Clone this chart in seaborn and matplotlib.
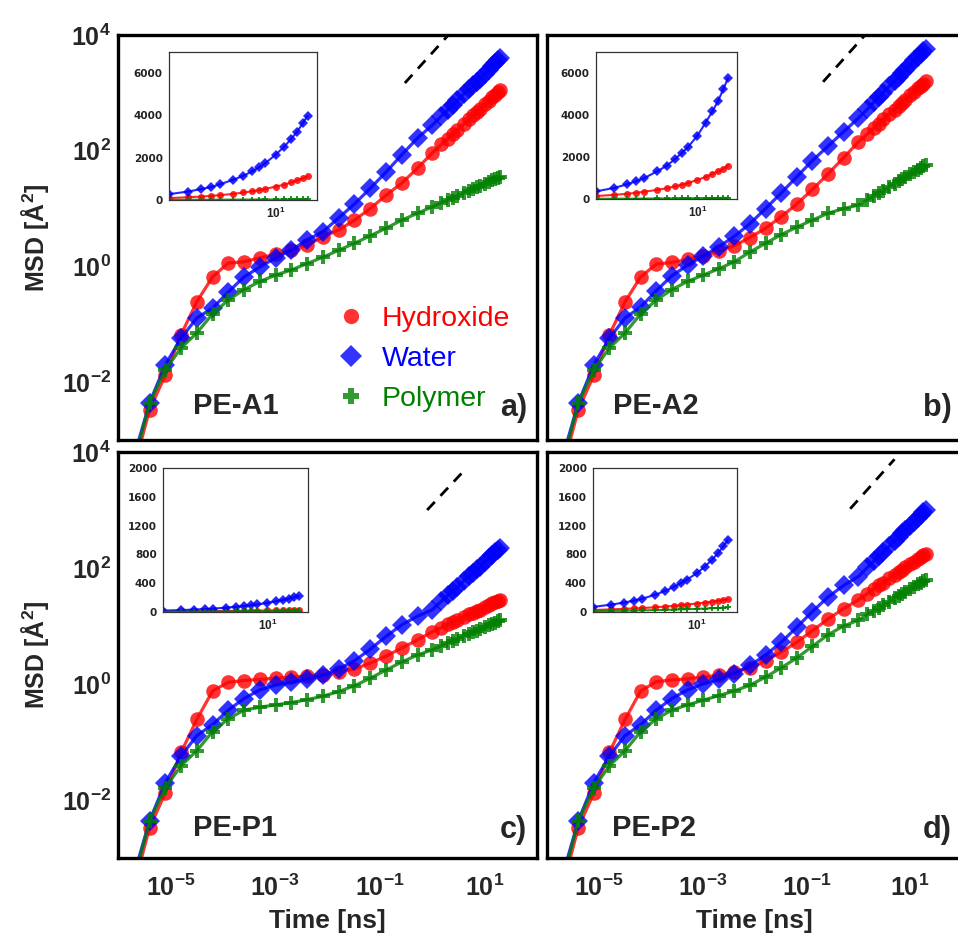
import numpy as np
import pandas as pd
import matplotlib
matplotlib.use("Agg")
import matplotlib.pyplot as plt
from matplotlib.lines import Line2D
from matplotlib.ticker import LogLocator, NullFormatter, MultipleLocator, FuncFormatter, FixedLocator
import seaborn as sns

sns.set_style("white")
plt.rcParams["font.family"] = ["Liberation Sans", "DejaVu Sans"]
plt.rcParams["font.weight"] = "bold"
plt.rcParams["mathtext.fontset"] = "custom"
for key in ["rm", "it", "bf", "sf"]:
    plt.rcParams["mathtext." + key] = "Liberation Sans:bold"
plt.rcParams["mathtext.default"] = "regular"

# ---- data (log10 of MSD in A^2) ----
species = ["Hydroxide", "Water", "Polymer"]
colors = ["red", "blue", "green"]
markers = {"Hydroxide": "o", "Water": "D", "Polymer": "P"}

# time samples [ns]: log-spaced part then linear part
t_short = [2e-6, 4e-6, 8e-6, 1.6e-5, 3.2e-5, 6.4e-5, 1.28e-4, 2.56e-4, 5.12e-4,
           1.024e-3, 2.048e-3, 4.096e-3, 8.192e-3, 0.016384, 0.032768, 0.065536,
           0.131, 0.262, 0.524]
t_long = [1, 1.5, 2, 2.5, 3, 4, 5, 6, 7, 8, 10, 12, 14, 16, 18, 20]

a_hydroxide = [-3.5, -2.48, -1.88, -1.18, -0.61, -0.18, 0.06, 0.08, 0.15, 0.21, 0.28, 0.37, 0.51, 0.63, 0.80, 1.00, 1.23, 1.44, 1.70,
               1.96, 2.11, 2.21, 2.29, 2.36, 2.46, 2.55, 2.61, 2.67, 2.72, 2.80, 2.86, 2.92, 2.97, 3.01, 3.05]
a_water = [-3.3, -2.36, -1.70, -1.24, -0.89, -0.72, -0.44, -0.18, -0.01, 0.15, 0.28, 0.46, 0.60, 0.84, 1.08, 1.35, 1.63, 1.93, 2.22,
           2.44, 2.60, 2.71, 2.79, 2.87, 2.98, 3.06, 3.13, 3.19, 3.24, 3.33, 3.40, 3.46, 3.51, 3.56, 3.60]
a_polymer = [-3.4, -2.36, -1.79, -1.41, -1.15, -0.82, -0.58, -0.40, -0.26, -0.15, -0.06, 0.05, 0.16, 0.28, 0.40, 0.53, 0.66, 0.80, 0.92,
             1.03, 1.10, 1.15, 1.19, 1.22, 1.27, 1.31, 1.34, 1.37, 1.39, 1.43, 1.46, 1.49, 1.51, 1.53, 1.55]

b_hydroxide = [-3.5, -2.48, -1.88, -1.18, -0.61, -0.18, 0.04, 0.07, 0.12, 0.18, 0.26, 0.36, 0.50, 0.66, 0.86, 1.08, 1.33, 1.60, 1.88,
               2.15, 2.29, 2.39, 2.47, 2.54, 2.64, 2.71, 2.78, 2.83, 2.88, 2.96, 3.02, 3.08, 3.12, 3.16, 3.20]
b_water = [-3.3, -2.36, -1.70, -1.24, -0.89, -0.70, -0.42, -0.16, 0.02, 0.18, 0.34, 0.52, 0.74, 1.00, 1.27, 1.55, 1.83, 2.08, 2.33,
           2.56, 2.72, 2.84, 2.93, 3.00, 3.12, 3.20, 3.28, 3.34, 3.39, 3.48, 3.56, 3.62, 3.67, 3.72, 3.76]
b_polymer = [-3.4, -2.36, -1.79, -1.41, -1.15, -0.82, -0.58, -0.40, -0.26, -0.15, -0.04, 0.08, 0.25, 0.40, 0.55, 0.68, 0.80, 0.92, 1.00,
             1.06, 1.15, 1.22, 1.27, 1.31, 1.38, 1.43, 1.47, 1.51, 1.54, 1.59, 1.63, 1.67, 1.70, 1.73, 1.75]

c_hydroxide = [-3.5, -2.48, -1.88, -1.18, -0.61, -0.12, 0.03, 0.06, 0.08, 0.10, 0.12, 0.14, 0.16, 0.20, 0.26, 0.36, 0.48, 0.62, 0.76,
               0.90, 0.97, 1.03, 1.07, 1.10, 1.16, 1.20, 1.23, 1.26, 1.28, 1.32, 1.36, 1.39, 1.41, 1.43, 1.45]
c_water = [-3.3, -2.36, -1.70, -1.24, -0.89, -0.70, -0.45, -0.25, -0.10, -0.02, 0.03, 0.08, 0.15, 0.26, 0.40, 0.60, 0.82, 1.02, 1.17,
           1.28, 1.43, 1.53, 1.61, 1.67, 1.78, 1.86, 1.92, 1.98, 2.02, 2.10, 2.17, 2.22, 2.27, 2.31, 2.35]
c_polymer = [-3.4, -2.36, -1.79, -1.41, -1.15, -0.82, -0.60, -0.45, -0.40, -0.36, -0.32, -0.27, -0.21, -0.13, -0.03, 0.10, 0.24, 0.38, 0.50,
             0.59, 0.66, 0.71, 0.75, 0.78, 0.83, 0.86, 0.90, 0.92, 0.94, 0.98, 1.01, 1.04, 1.06, 1.08, 1.10]

d_hydroxide = [-3.5, -2.48, -1.88, -1.18, -0.61, -0.12, 0.04, 0.07, 0.09, 0.12, 0.15, 0.20, 0.28, 0.40, 0.55, 0.72, 0.92, 1.12, 1.30,
               1.45, 1.56, 1.64, 1.70, 1.74, 1.82, 1.88, 1.93, 1.97, 2.01, 2.07, 2.11, 2.16, 2.19, 2.22, 2.25]
d_water = [-3.3, -2.36, -1.70, -1.24, -0.89, -0.70, -0.45, -0.25, -0.10, 0.00, 0.08, 0.18, 0.32, 0.50, 0.72, 0.98, 1.25, 1.50, 1.70,
           1.85, 2.01, 2.12, 2.20, 2.27, 2.38, 2.47, 2.54, 2.60, 2.65, 2.73, 2.80, 2.86, 2.91, 2.96, 3.00]
d_polymer = [-3.4, -2.36, -1.79, -1.41, -1.15, -0.82, -0.60, -0.45, -0.36, -0.28, -0.20, -0.12, -0.02, 0.12, 0.28, 0.45, 0.65, 0.85, 1.00,
             1.10, 1.20, 1.26, 1.31, 1.36, 1.42, 1.48, 1.52, 1.56, 1.59, 1.64, 1.68, 1.72, 1.75, 1.78, 1.80]

# slope-one guide lines (dashed)
a_guide_t, a_guide_msd = [0.30, 2.5], [1480, 12300]
b_guide_t, b_guide_msd = [0.21, 2.1], [1550, 15500]
c_guide_t, c_guide_msd = [0.8, 3.9], [1000, 4600]
d_guide_t, d_guide_msd = [0.7, 5.0], [1050, 7500]

panels = [
    ("PE-A1", "a)", a_hydroxide, a_water, a_polymer, a_guide_t, a_guide_msd),
    ("PE-A2", "b)", b_hydroxide, b_water, b_polymer, b_guide_t, b_guide_msd),
    ("PE-P1", "c)", c_hydroxide, c_water, c_polymer, c_guide_t, c_guide_msd),
    ("PE-P2", "d)", d_hydroxide, d_water, d_polymer, d_guide_t, d_guide_msd),
]

# ---- layout (pixel boxes of the reference) ----
W, H = 958, 933
def rect(x0, y0, x1, y1):
    return [x0 / W, 1 - y1 / H, (x1 - x0) / W, (y1 - y0) / H]

main_boxes = [(118, 35, 537, 440), (547, 35, 962, 440), (118, 452, 537, 858), (547, 452, 962, 858)]
inset_boxes = [(169, 52, 317, 200), (596, 52, 737, 199), (163, 468, 308, 612), (593, 468, 737, 612)]
name_pos = [(0.179, 0.084), (0.160, 0.084), (0.179, 0.074), (0.157, 0.074)]


def log_fmt(parity):
    def f(v, pos):
        e = int(round(np.log10(v)))
        return r"$\mathdefault{10^{%d}}$" % e if e % 2 == parity else ""
    return FuncFormatter(f)


fig = plt.figure(figsize=(9.58, 9.33), dpi=100)
time = t_short + t_long

for i, (name, tag, hyd, wat, pol, g_t, g_msd) in enumerate(panels):
    df = pd.DataFrame({
        "time": time * 3,
        "msd": 10 ** np.array(hyd + wat + pol),
        "species": sum([[s] * len(time) for s in species], []),
    })
    ax = fig.add_axes(rect(*main_boxes[i]))
    sns.lineplot(data=df, x="time", y="msd", hue="species", style="species",
                 hue_order=species, style_order=species, palette=colors,
                 markers=markers, dashes=False, estimator=None, errorbar=None,
                 markersize=10.5, linewidth=2.3, alpha=0.8, markeredgewidth=0,
                 legend=False, ax=ax)
    ax.plot(g_t, g_msd, color="black", linestyle=(0, (4, 3)), linewidth=2)
    ax.set_xscale("log")
    ax.set_yscale("log")
    ax.set_xlim(1e-6, 1e2)
    ax.set_ylim(1e-3, 1e4)
    ax.xaxis.set_major_locator(LogLocator(base=10, numticks=100))
    ax.yaxis.set_major_locator(LogLocator(base=10, numticks=100))
    ax.xaxis.set_minor_locator(LogLocator(base=10, subs=np.arange(2, 10), numticks=100))
    ax.yaxis.set_minor_locator(LogLocator(base=10, subs=np.arange(2, 10), numticks=100))
    ax.xaxis.set_major_formatter(log_fmt(1))
    ax.yaxis.set_major_formatter(log_fmt(0))
    ax.xaxis.set_minor_formatter(NullFormatter())
    ax.yaxis.set_minor_formatter(NullFormatter())
    ax.tick_params(which="both", direction="in", top=False, right=False, width=1.2)
    ax.tick_params(which="major", length=8, labelsize=18, pad=5)
    ax.tick_params(axis="x", which="major", pad=12)
    ax.tick_params(which="minor", length=4)
    ax.tick_params(labelbottom=(i >= 2), labelleft=(i % 2 == 0))
    for sp in ax.spines.values():
        sp.set_linewidth(2.4)
        sp.set_color("black")
    if i % 2 == 0:
        ax.set_ylabel("MSD [Å$^{2}$]", fontsize=18, fontweight="bold")
        ax.yaxis.set_label_coords(-0.16, 0.5)
    else:
        ax.set_ylabel("")
    if i >= 2:
        ax.set_xlabel("Time [ns]", fontsize=19, fontweight="bold")
        ax.xaxis.set_label_coords(0.5, -0.125)
    else:
        ax.set_xlabel("")
    ax.text(name_pos[i][0], name_pos[i][1], name, transform=ax.transAxes,
            fontsize=21, fontweight="bold", ha="left", va="center")
    ax.text(0.976, name_pos[i][1] - 0.005, tag, transform=ax.transAxes,
            fontsize=22, fontweight="bold", ha="right", va="center")

    if i == 0:
        handles = [Line2D([], [], marker=markers[s], color=c, linestyle="none",
                          markersize=11, alpha=0.8, markeredgewidth=0)
                   for s, c in zip(species, colors)]
        ax.legend(handles, species, loc="lower right", bbox_to_anchor=(0.935, 0.068),
                  frameon=False, prop={"size": 20.5, "weight": "normal"},
                  labelcolor=colors, handlelength=1.0, handletextpad=0.55,
                  labelspacing=0.5, borderpad=0, borderaxespad=0)

    # inset: linear MSD vs log time at long times
    ins = fig.add_axes(rect(*inset_boxes[i]))
    sns.lineplot(data=df, x="time", y="msd", hue="species", style="species",
                 hue_order=species, style_order=species, palette=colors,
                 markers=markers, dashes=False, estimator=None, errorbar=None,
                 markersize=5, linewidth=1.5, alpha=0.85, markeredgewidth=0,
                 legend=False, ax=ins)
    ins.set_xscale("log")
    ins.set_xlim(1.0, 24.5)
    if i < 2:
        ins.set_ylim(0, 7000)
        ins.yaxis.set_major_locator(MultipleLocator(2000))
        ins.yaxis.set_minor_locator(MultipleLocator(1000))
    else:
        ins.set_ylim(0, 2000)
        ins.yaxis.set_major_locator(MultipleLocator(400))
        ins.yaxis.set_minor_locator(MultipleLocator(200))
    ins.xaxis.set_major_locator(FixedLocator([10]))
    ins.xaxis.set_minor_locator(FixedLocator([2, 3, 4, 5, 6, 7, 8, 9, 20]))
    ins.xaxis.set_major_formatter(FuncFormatter(lambda v, p: r"$\mathdefault{10^{1}}$"))
    ins.xaxis.set_minor_formatter(NullFormatter())
    ins.set_xlabel("")
    ins.set_ylabel("")
    ins.tick_params(which="both", direction="out", width=0.8, colors="#222222", pad=1.5)
    ins.tick_params(which="major", length=3, labelsize=7.5)
    ins.tick_params(which="minor", length=1.8)
    ins.tick_params(axis="x", labelsize=8.5)
    for lab in ins.get_yticklabels():
        lab.set_family("DejaVu Sans")
    for sp in ins.spines.values():
        sp.set_linewidth(0.9)
        sp.set_color("#333333")
    ins.set_facecolor("white")

fig.savefig("out.png", dpi=100)
